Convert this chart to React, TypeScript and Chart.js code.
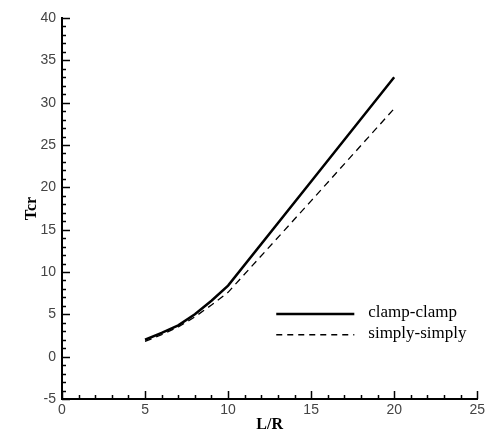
import React, { useEffect, useRef } from "react";
import { Chart, registerables } from "chart.js";

Chart.register(...registerables);

const clampX = [5, 6, 7, 8, 9, 10, 15, 20];
const clampY = [2.0, 2.8, 3.7, 5.0, 6.6, 8.4, 20.7, 33.0];
const simplyX = [5, 6, 7, 8, 9, 10, 15, 20];
const simplyY = [1.8, 2.6, 3.5, 4.7, 6.1, 7.6, 18.4, 29.3];
const seriesLabels = ["clamp-clamp", "simply-simply"];
const xTitle = "L/R";
const yTitle = "Tcr";

const innerTicks = {
  id: "innerTicks",
  afterDraw(chart: any) {
    const ctx = chart.ctx;
    const xs = chart.scales.x;
    const ys = chart.scales.y;
    const area = chart.chartArea;
    ctx.save();
    ctx.strokeStyle = "#000";
    ctx.lineWidth = 1.5;
    for (let v = xs.min; v <= xs.max + 1e-9; v += 1) {
      const px = Math.round(xs.getPixelForValue(v)) + 0.5;
      const len = v % 5 === 0 ? 8 : 4;
      ctx.beginPath();
      ctx.moveTo(px, area.bottom);
      ctx.lineTo(px, area.bottom - len);
      ctx.stroke();
    }
    for (let v = ys.min; v <= ys.max + 1e-9; v += 1) {
      const py = Math.round(ys.getPixelForValue(v)) + 0.5;
      const len = ((v % 5) + 5) % 5 === 0 ? 8 : 4;
      ctx.beginPath();
      ctx.moveTo(area.left, py);
      ctx.lineTo(area.left + len, py);
      ctx.stroke();
    }
    // legend
    const xs0 = xs.getPixelForValue(12.9);
    const xs1 = xs.getPixelForValue(17.6);
    const rows = [
      { y: ys.getPixelForValue(5.05), dash: [] as number[], w: 2.5 },
      { y: ys.getPixelForValue(2.6), dash: [6, 5], w: 1.5 },
    ];
    ctx.font = "17px 'Liberation Serif', 'Times New Roman', serif";
    ctx.fillStyle = "#000";
    ctx.textBaseline = "middle";
    ctx.textAlign = "left";
    rows.forEach((r, i) => {
      ctx.beginPath();
      ctx.lineWidth = r.w;
      ctx.setLineDash(r.dash);
      ctx.moveTo(xs0, r.y);
      ctx.lineTo(xs1, r.y);
      ctx.stroke();
      ctx.setLineDash([]);
      ctx.fillText(seriesLabels[i], xs1 + 14, r.y - 1);
    });
    ctx.restore();
  },
};

export default function App() {
  const ref = useRef<HTMLCanvasElement>(null);
  useEffect(() => {
    if (!ref.current) return;
    const chart = new Chart(ref.current, {
      type: "line",
      data: {
        datasets: [
          {
            label: seriesLabels[0],
            data: clampX.map((x, i) => ({ x, y: clampY[i] })),
            borderColor: "#000",
            borderWidth: 2.5,
            pointRadius: 0,
            tension: 0,
          },
          {
            label: seriesLabels[1],
            data: simplyX.map((x, i) => ({ x, y: simplyY[i] })),
            borderColor: "#000",
            borderWidth: 1.3,
            borderDash: [7, 5],
            pointRadius: 0,
            tension: 0,
          },
        ],
      },
      plugins: [innerTicks],
      options: {
        animation: false,
        responsive: false,
        maintainAspectRatio: false,
        layout: { padding: { left: 0, right: 6, top: 18, bottom: 0 } },
        plugins: { legend: { display: false }, tooltip: { enabled: false } },
        scales: {
          x: {
            type: "linear",
            min: 0,
            max: 25,
            afterFit: (s: any) => {
              s.height = 32;
            },
            border: { display: true, color: "#000", width: 2 },
            grid: { display: false, drawTicks: false },
            ticks: {
              stepSize: 5,
              padding: 3,
              color: "#444",
              font: { family: "'Liberation Sans', Arial, sans-serif", size: 14 },
            },
            title: {
              display: true,
              text: xTitle,
              color: "#000",
              padding: { top: 0, bottom: -3 },
              font: { family: "'Liberation Serif', 'Times New Roman', serif", size: 16, weight: "bold" },
            },
          },
          y: {
            min: -5,
            max: 40,
            afterFit: (s: any) => {
              s.width = 62;
            },
            border: { display: true, color: "#000", width: 2 },
            grid: { display: false, drawTicks: false },
            ticks: {
              stepSize: 5,
              padding: 6,
              color: "#444",
              font: { family: "'Liberation Sans', Arial, sans-serif", size: 14 },
            },
            title: {
              display: true,
              text: yTitle,
              color: "#000",
              padding: { top: 22, bottom: 0 },
              font: { family: "'Liberation Serif', 'Times New Roman', serif", size: 16, weight: "bold" },
            },
          },
        },
      },
    } as any);
    return () => chart.destroy();
  }, []);
  return (
    <div style={{ position: "absolute", left: 0, top: 0, width: 488, height: 431, background: "#fff" }}>
      <canvas ref={ref} width={488} height={431} style={{ display: "block" }} />
    </div>
  );
}
